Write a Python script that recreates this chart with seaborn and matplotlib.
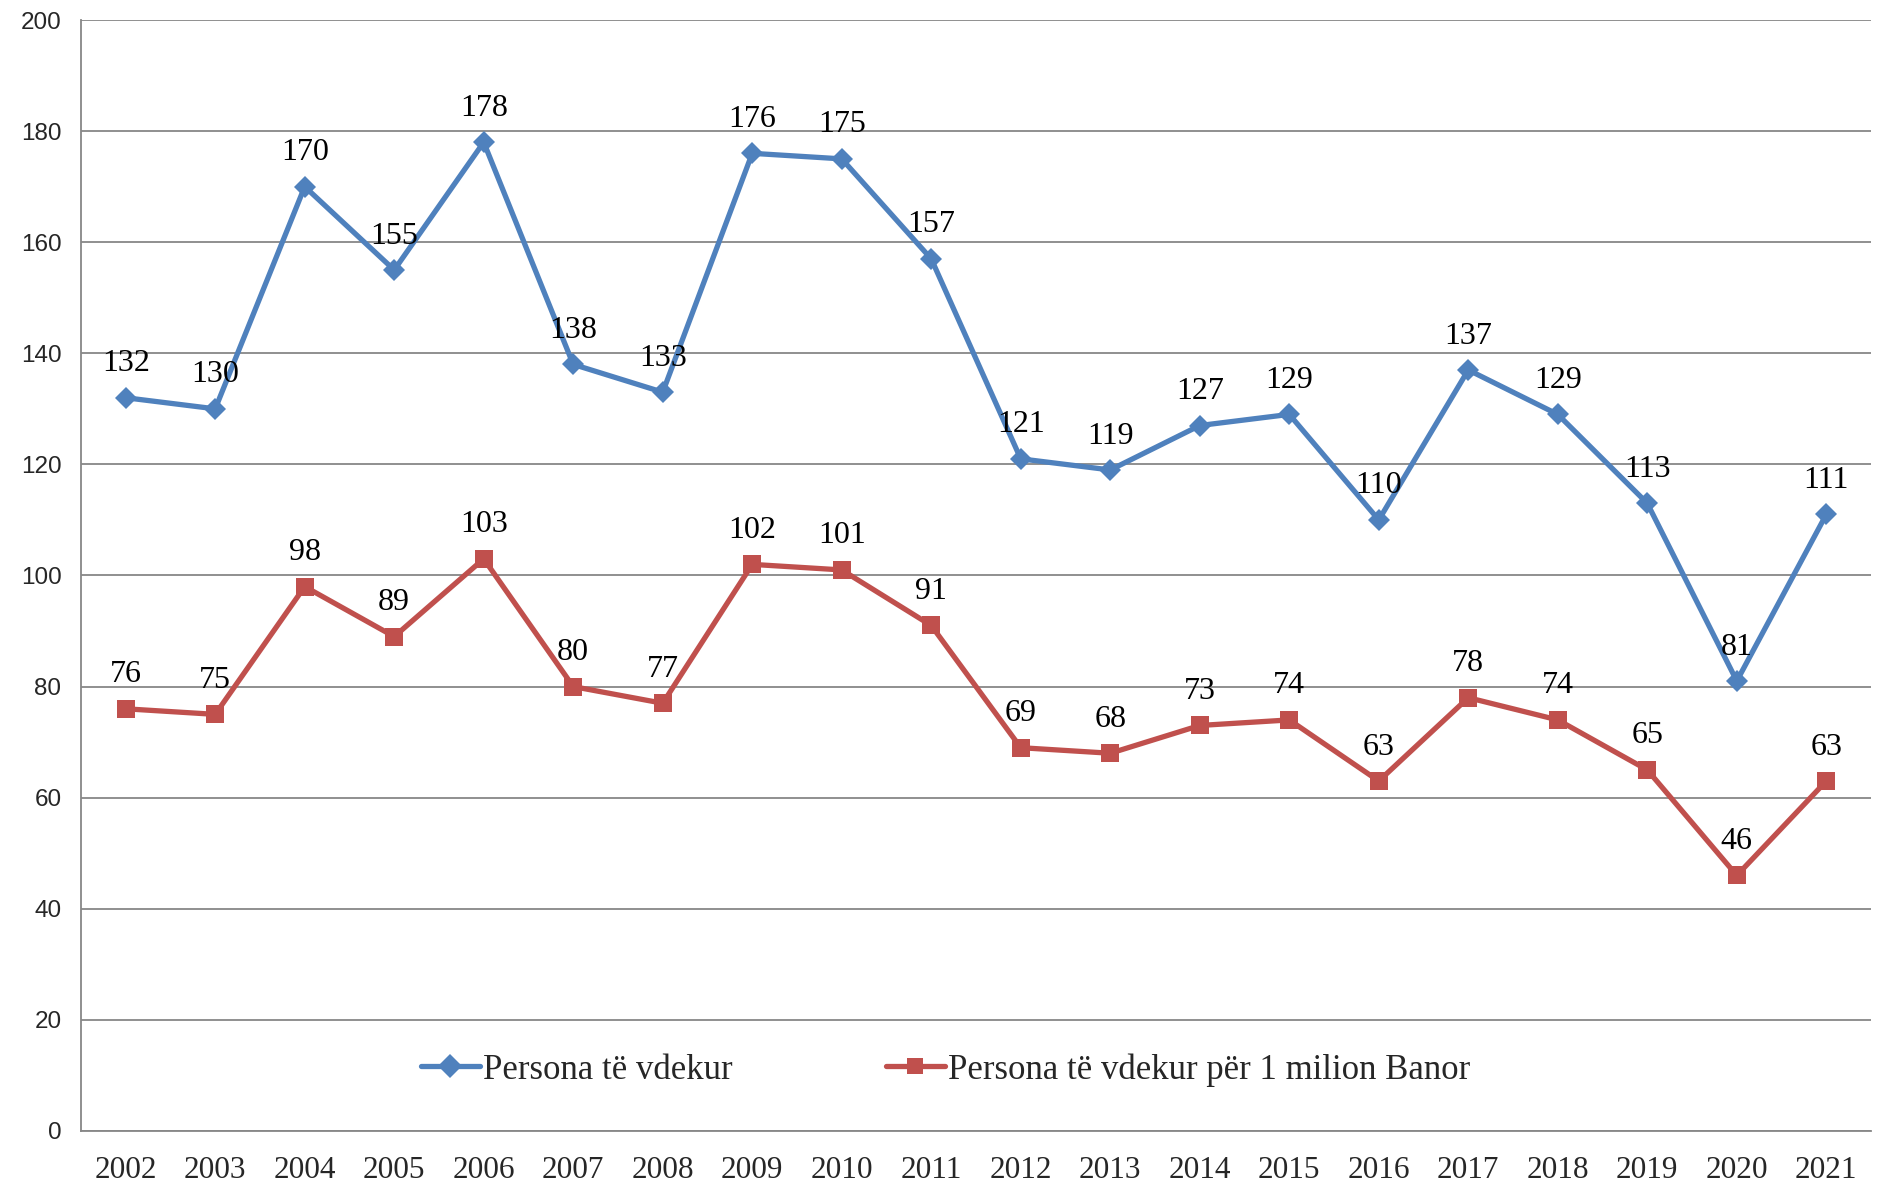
import seaborn as sns
import matplotlib.pyplot as plt
import pandas as pd

# values
years = [str(y) for y in range(2002, 2022)]
deaths = [132, 130, 170, 155, 178, 138, 133, 176, 175, 157,
          121, 119, 127, 129, 110, 137, 129, 113, 81, 111]
deaths_per_million = [76, 75, 98, 89, 103, 80, 77, 102, 101, 91,
                      69, 68, 73, 74, 63, 78, 74, 65, 46, 63]
series_names = ["Persona të vdekur", "Persona të vdekur për 1 milion Banor"]
y_ticks = list(range(0, 201, 20))

sns.set_style("white")
plt.rcParams['font.family'] = ['Liberation Serif', 'DejaVu Serif']

# long table for seaborn
pos = list(range(len(years)))
df = pd.concat([
    pd.DataFrame({"pos": pos, "value": deaths, "series": series_names[0]}),
    pd.DataFrame({"pos": pos, "value": deaths_per_million, "series": series_names[1]}),
])

blue = "#4F81BD"
red = "#C0504D"
grid_col = "#878787"

fig = plt.figure(figsize=(18.78, 11.91), dpi=100)
ax = fig.add_axes([0.0431, 0.0504, 0.9532, 0.9328])

sns.lineplot(data=df, x="pos", y="value", hue="series", style="series",
             palette=[blue, red], markers={series_names[0]: "D", series_names[1]: "s"},
             dashes=False, linewidth=3.8, markersize=12, markeredgewidth=0,
             ax=ax, legend=True)
ax.lines[0].set_markersize(11)
ax.lines[1].set_markersize(13)

for vals in (deaths, deaths_per_million):
    for x, v in zip(pos, vals):
        ax.annotate(str(v), (x, v), xytext=(0, 14), textcoords="offset points",
                    ha="center", va="bottom", fontsize=23, color="black")

ax.set_xlim(-0.5, len(years) - 0.5)
ax.set_ylim(0, 200)
ax.set_yticks(y_ticks)
ax.set_yticklabels([str(t) for t in y_ticks], family=['Liberation Sans', 'DejaVu Sans'], fontsize=17.5)
ax.set_xticks(pos)
ax.set_xticklabels(years, fontsize=22.5)
ax.set_xticks([p - 0.5 for p in pos] + [len(years) - 0.5], minor=True)
ax.tick_params(axis="x", which="major", length=0, pad=18)
ax.tick_params(axis="x", which="minor", length=10, width=1.3, color=grid_col, direction="out")
ax.tick_params(axis="y", length=8, width=1.3, color=grid_col, direction="out", pad=6)
ax.set_xlabel("")
ax.set_ylabel("")

ax.yaxis.grid(True, color=grid_col, linewidth=1.3)
ax.set_axisbelow(True)
for side in ("top", "right"):
    ax.spines[side].set_visible(False)
for side in ("left", "bottom"):
    ax.spines[side].set_color(grid_col)
    ax.spines[side].set_linewidth(1.3)

handles, labels = ax.get_legend_handles_labels()
ax.legend(handles, labels, loc="center", bbox_to_anchor=(0.483, 0.055), ncol=2,
          frameon=False, fontsize=25, handlelength=1.7, handletextpad=0.1,
          columnspacing=4.4)

fig.savefig("out.png", dpi=100)
